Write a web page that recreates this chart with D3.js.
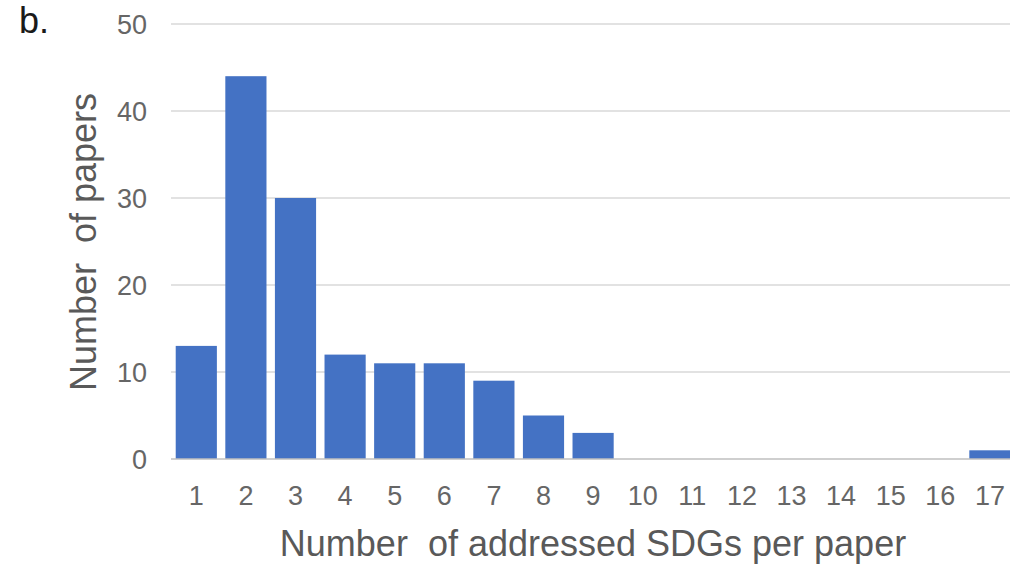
<!DOCTYPE html>
<html><head><meta charset="utf-8">
<script src="https://cdn.jsdelivr.net/npm/d3@7"></script>
<style>body{margin:0;background:#fff}svg{display:block}text{white-space:pre}</style>
</head><body>
<svg id="c" width="1010" height="566"></svg>
<script>
const categories = ["1","2","3","4","5","6","7","8","9","10","11","12","13","14","15","16","17"];
const values = [13,44,30,12,11,11,9,5,3,0,0,0,0,0,0,0,1];
const yTicks = [0,10,20,30,40,50];

const svg = d3.select("#c");
const x = d3.scaleBand().domain(categories).range([171.5,1014.7]).paddingInner(0.17).paddingOuter(0.085);
const y = d3.scaleLinear().domain([0,50]).range([459,24]);
const font = "'Liberation Sans', Arial, sans-serif";

svg.append("g").selectAll("line").data(yTicks.filter(d=>d>0)).join("line")
  .attr("x1",171).attr("x2",1010).attr("y1",d=>y(d)).attr("y2",d=>y(d))
  .attr("stroke","#d9d9d9").attr("stroke-width",1.3);

svg.append("g").selectAll("rect").data(values).join("rect")
  .attr("x",(d,i)=>x(categories[i])).attr("width",x.bandwidth())
  .attr("y",d=>y(d)).attr("height",d=>y(0)-y(d)).attr("fill","#4472c4");

svg.append("line").attr("x1",171).attr("x2",1010).attr("y1",y(0)).attr("y2",y(0))
  .attr("stroke","#bfbfbf").attr("stroke-width",1.5);

svg.append("g").selectAll("text").data(yTicks).join("text")
  .attr("x",147).attr("y",d=>y(d)).attr("dy","0.36em").attr("text-anchor","end")
  .attr("font-family",font).attr("font-size",27).attr("fill","#666").text(d=>d);

svg.append("g").selectAll("text").data(categories).join("text")
  .attr("x",d=>x(d)+x.bandwidth()/2).attr("y",505).attr("text-anchor","middle")
  .attr("font-family",font).attr("font-size",27).attr("fill","#666").text(d=>d);

svg.append("text").attr("x",593).attr("y",556).attr("text-anchor","middle")
  .attr("font-family",font).attr("font-size",36).attr("fill","#595959")
  .text("Number  of addressed SDGs per paper");
svg.append("text").attr("transform","translate(96,242) rotate(-90)").attr("text-anchor","middle")
  .attr("font-family",font).attr("font-size",36).attr("fill","#595959")
  .text("Number  of papers");

svg.append("text").attr("x",19).attr("y",33).attr("font-family",font).attr("font-size",36)
  .attr("fill","#1a1a1a").text("b.");
</script>
</body></html>
